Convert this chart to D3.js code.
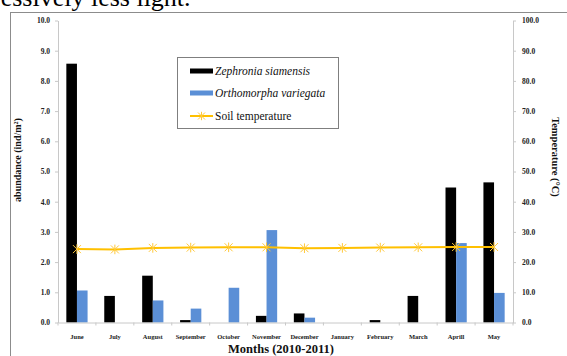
<!DOCTYPE html>
<html>
<head>
<meta charset="utf-8">
<script src="https://cdn.jsdelivr.net/npm/d3@7"></script>
<style>
  html, body { margin: 0; padding: 0; background: #fff; }
  svg { display: block; }
  svg text { font-family: "Liberation Serif", "Times New Roman", "DejaVu Serif", serif; }
</style>
</head>
<body>
<div id="chart"></div>
<script>
// Monthly abundance of two millipede species with soil temperature
const months = ["June", "July", "August", "September", "October", "November", "December",
                "January", "February", "March", "Aprill", "May"];
const zephronia = [8.57, 0.88, 1.55, 0.08, 0, 0.22, 0.30, 0, 0.08, 0.88, 4.47, 4.64];
const orthomorpha = [1.06, 0, 0.73, 0.46, 1.15, 3.06, 0.16, 0, 0, 0, 2.63, 0.98];
const soilTemp = [24.3, 24.2, 24.7, 24.8, 24.9, 24.9, 24.6, 24.7, 24.8, 24.9, 25.0, 25.0];
const leftTicks = [0, 1, 2, 3, 4, 5, 6, 7, 8, 9, 10];
const rightTicks = [0, 10, 20, 30, 40, 50, 60, 70, 80, 90, 100];
const seriesNames = ["Zephronia siamensis", "Orthomorpha variegata", "Soil temperature"];

const W = 567, H = 356;
const black = "#000000", blue = "#5B8FD6", orange = "#FFC000", axisGrey = "#c8c8c8";

const svg = d3.select("#chart").append("svg").attr("width", W).attr("height", H);

// running text of the page above the figure
svg.append("text").attr("x", -8).attr("y", 6)
  .attr("font-size", 26).attr("fill", "#000")
  .text("ressively less light.");

// figure frame
svg.append("rect").attr("x", 10.5).attr("y", 12.5).attr("width", 570).attr("height", 360)
  .attr("fill", "none").attr("stroke", "#8c8c8c").attr("stroke-width", 1);

const plot = { left: 58, right: 513, top: 20.5, bottom: 322.5 };

const x = d3.scaleBand().domain(months).range([plot.left, plot.right]).paddingInner(0).paddingOuter(0);
const yL = d3.scaleLinear().domain([0, 10]).range([plot.bottom, plot.top]);
const yR = d3.scaleLinear().domain([0, 100]).range([plot.bottom, plot.top]);
const barW = x.bandwidth() * 0.28;

// bars
const g = svg.append("g");
g.selectAll("rect.z").data(months).join("rect").attr("class", "z")
  .attr("x", d => x(d) + x.bandwidth() / 2 - barW)
  .attr("y", (d, i) => yL(zephronia[i]))
  .attr("width", barW)
  .attr("height", (d, i) => yL(0) - yL(zephronia[i]))
  .attr("fill", black);
g.selectAll("rect.o").data(months).join("rect").attr("class", "o")
  .attr("x", d => x(d) + x.bandwidth() / 2)
  .attr("y", (d, i) => yL(orthomorpha[i]))
  .attr("width", barW)
  .attr("height", (d, i) => yL(0) - yL(orthomorpha[i]))
  .attr("fill", blue);

// axes
const fontTick = g => g.selectAll("text").attr("font-family", null).attr("font-weight", "bold")
  .attr("font-size", 7.5).attr("fill", "#222");
const styleAxis = g => { g.attr("font-family", null); g.select(".domain").attr("stroke", axisGrey); g.selectAll(".tick line").attr("stroke", axisGrey); };

svg.append("g").attr("transform", `translate(${plot.left},0)`)
  .call(d3.axisLeft(yL).tickValues(leftTicks).tickFormat(d3.format(".1f")).tickSize(3).tickSizeOuter(0).tickPadding(5))
  .call(styleAxis).call(fontTick);

svg.append("g").attr("transform", `translate(${plot.right},0)`)
  .call(d3.axisRight(yR).tickValues(rightTicks).tickFormat(d3.format(".1f")).tickSize(3).tickSizeOuter(0).tickPadding(6))
  .call(styleAxis).call(fontTick);

const xAxis = svg.append("g").attr("transform", `translate(0,${plot.bottom})`)
  .call(d3.axisBottom(x).tickSize(0).tickPadding(12))
  .call(styleAxis).call(fontTick);
xAxis.selectAll("text").attr("font-size", 6.5);
// category boundary ticks
xAxis.selectAll("line.sep").data(months.concat(["end"])).join("line").attr("class", "sep")
  .attr("x1", (d, i) => i < months.length ? x(d) : plot.right)
  .attr("x2", (d, i) => i < months.length ? x(d) : plot.right)
  .attr("y1", 0).attr("y2", 3).attr("stroke", axisGrey);

// temperature line
const line = d3.line().x((d, i) => x(months[i]) + x.bandwidth() / 2).y(d => yR(d));
svg.append("path").datum(soilTemp).attr("d", line)
  .attr("fill", "none").attr("stroke", orange).attr("stroke-width", 2);

const star = (sel, s) => {
  sel.append("path")
    .attr("d", `M${-s},${-s}L${s},${s}M${-s},${s}L${s},${-s}M0,${-s * 1.2}L0,${s * 1.2}`)
    .attr("stroke", "#FFC93C").attr("stroke-width", 1).attr("fill", "none");
};
soilTemp.forEach((t, i) => {
  const m = svg.append("g").attr("transform", `translate(${x(months[i]) + x.bandwidth() / 2},${yR(t)})`);
  star(m, 4);
});

// axis titles
svg.append("text").attr("transform", "translate(21,160) rotate(-90)")
  .attr("text-anchor", "middle").attr("font-weight", "bold")
  .attr("font-size", 10).attr("fill", "#111")
  .text("abundance (ind/m²)");
svg.append("text").attr("transform", "translate(552,157) rotate(90)")
  .attr("text-anchor", "middle").attr("font-weight", "bold")
  .attr("font-size", 10.5).attr("fill", "#111")
  .text("Temperature (°C)");
svg.append("text").attr("x", 281).attr("y", 353)
  .attr("text-anchor", "middle").attr("font-weight", "bold")
  .attr("font-size", 12.5).attr("fill", "#111")
  .text("Months (2010-2011)");

// legend
const lg = svg.append("g");
lg.append("rect").attr("x", 177.5).attr("y", 57.5).attr("width", 161).attr("height", 71)
  .attr("fill", "#fff").attr("stroke", "#7f7f7f");
const rows = [71, 93, 116];
lg.append("rect").attr("x", 190).attr("y", rows[0] - 2.5).attr("width", 23).attr("height", 5).attr("fill", black);
lg.append("rect").attr("x", 190).attr("y", rows[1] - 2.5).attr("width", 23).attr("height", 5).attr("fill", blue);
lg.append("line").attr("x1", 190).attr("x2", 213).attr("y1", rows[2]).attr("y2", rows[2])
  .attr("stroke", orange).attr("stroke-width", 2);
star(lg.append("g").attr("transform", `translate(201.5,${rows[2]})`), 3.5);
seriesNames.forEach((n, i) => {
  lg.append("text").attr("x", 215).attr("y", rows[i] + 4)
    .attr("font-size", 11.5).attr("fill", "#111")
    .style("font-style", i < 2 ? "italic" : "normal")
    .text(n);
});
</script>
</body>
</html>
